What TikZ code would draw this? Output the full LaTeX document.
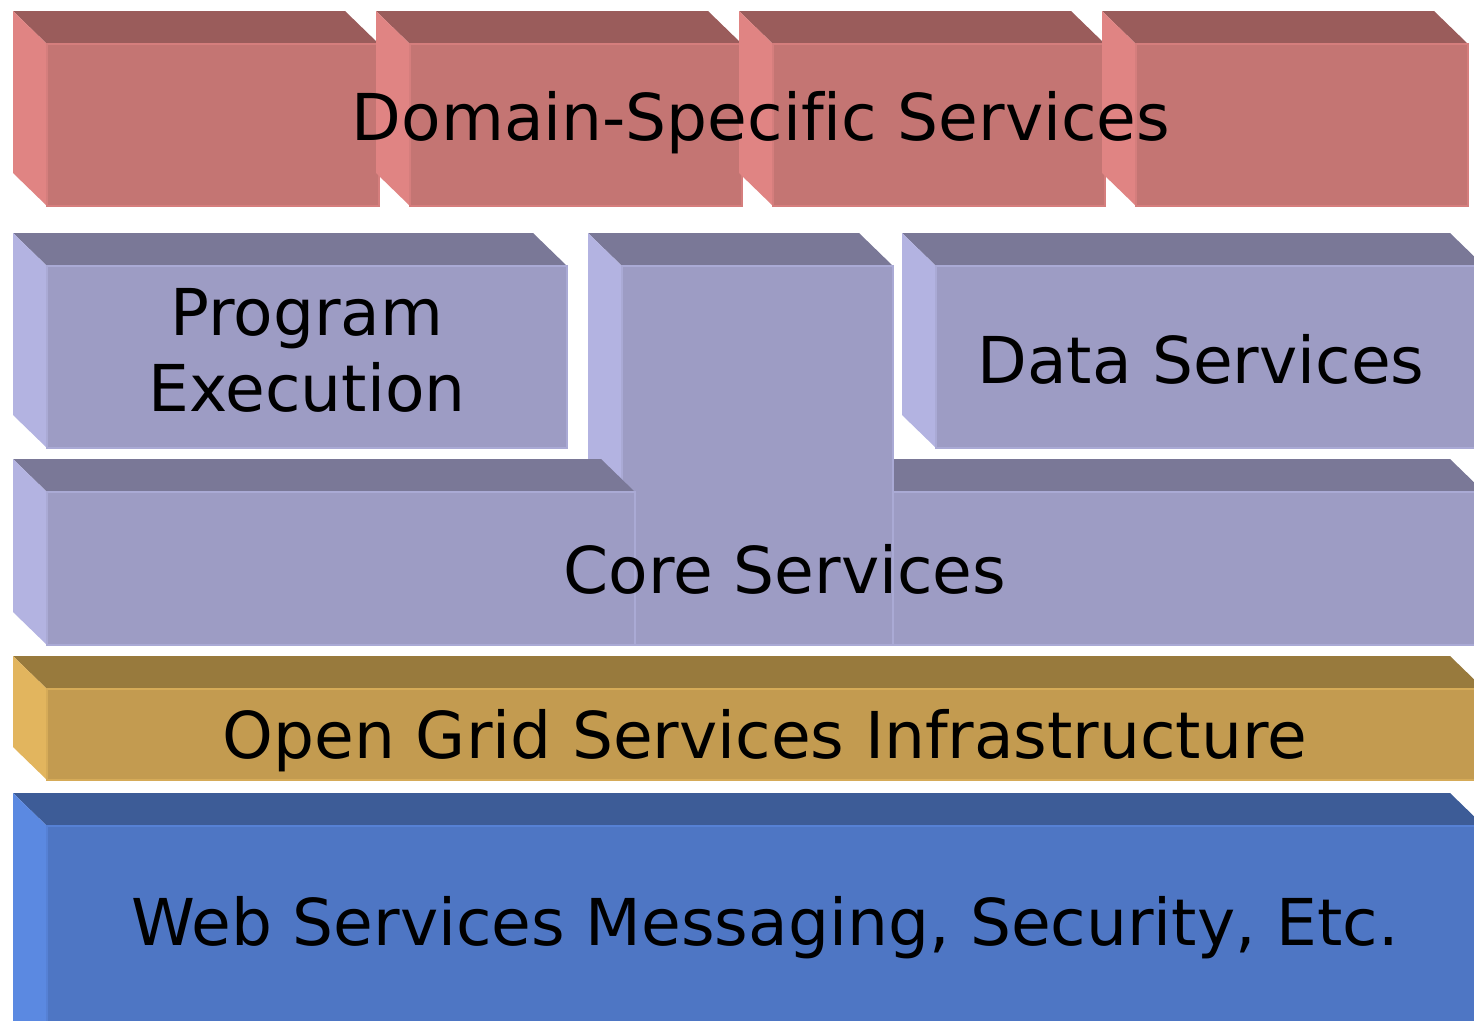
\documentclass[tikz,border=0pt]{standalone}
\usepackage{fontspec}
\setmainfont[Ligatures=NoCommon]{DejaVu Sans}
\usetikzlibrary{positioning}
\definecolor{domfront}{HTML}{C47573}
\definecolor{domtop}{HTML}{9A5C5B}
\definecolor{domside}{HTML}{E08483}
\definecolor{corefront}{HTML}{9D9CC4}
\definecolor{coretop}{HTML}{7A7897}
\definecolor{coreside}{HTML}{B3B3E1}
\definecolor{ogsifront}{HTML}{C39B50}
\definecolor{ogsitop}{HTML}{987A3D}
\definecolor{ogsiside}{HTML}{E2B55E}
\definecolor{webfront}{HTML}{4E76C4}
\definecolor{webtop}{HTML}{3D5C97}
\definecolor{webside}{HTML}{5B89E1}
\tikzset{
  lbl/.style={inner sep=0pt, anchor=base, font=\fontsize{64.6}{76}\selectfont},
  topface/.style={fill=#1top},
  sideface/.style={fill=#1side},
  frontface/.style={fill=#1front, draw=#1side!60!#1front, line width=1.5pt}
}
% slab: front face x0,y0,x1,y1 and colour prefix
\newcommand{\slab}[5]{%
  \fill[topface=#5] (#1-34,#2-33) -- (#3-34,#2-33) -- (#3,#2) -- (#1,#2) -- cycle;
  \fill[sideface=#5] (#1-34,#2-33) -- (#1,#2) -- (#1,#4) -- (#1-34,#4-33) -- cycle;
  \filldraw[frontface=#5] (#1,#2) rectangle (#3,#4);
}
\begin{document}
\begin{tikzpicture}[x=1pt,y=-1pt]
  \useasboundingbox (0,0) rectangle (1474,1020);
  \clip (0,0) rectangle (1474,1020);
  % domain-specific row
  \slab{47}{44}{379}{206}{dom}
  \slab{410}{44}{742}{206}{dom}
  \slab{773}{44}{1105}{206}{dom}
  \slab{1136}{44}{1468}{206}{dom}
  % core row
  \slab{47}{266}{567}{448}{core}
  \slab{936}{266}{1484}{448}{core}
  \slab{893}{492}{1484}{645}{core}
  \slab{622}{266}{893}{645}{core}
  \slab{47}{492}{635}{645}{core}
  % infrastructure
  \slab{47}{689}{1484}{780}{ogsi}
  \slab{47}{826}{1484}{1060}{web}
  % labels
  \node[lbl] (domain) at (761,140) {Domain-Specific Services};
  \node[lbl] (prog) at (307,335) {Program};
  \node[lbl] (exec) at (307,411) {Execution};
  \node[lbl] (data) at (1201,383) {Data Services};
  \node[lbl] (core) at (785,593) {Core Services};
  \node[lbl] (ogsi) at (765,758) {Open Grid Services Infrastructure};
  \node[lbl] (web) at (765,945) {Web Services Messaging, Security, Etc.};
\end{tikzpicture}
\end{document}
